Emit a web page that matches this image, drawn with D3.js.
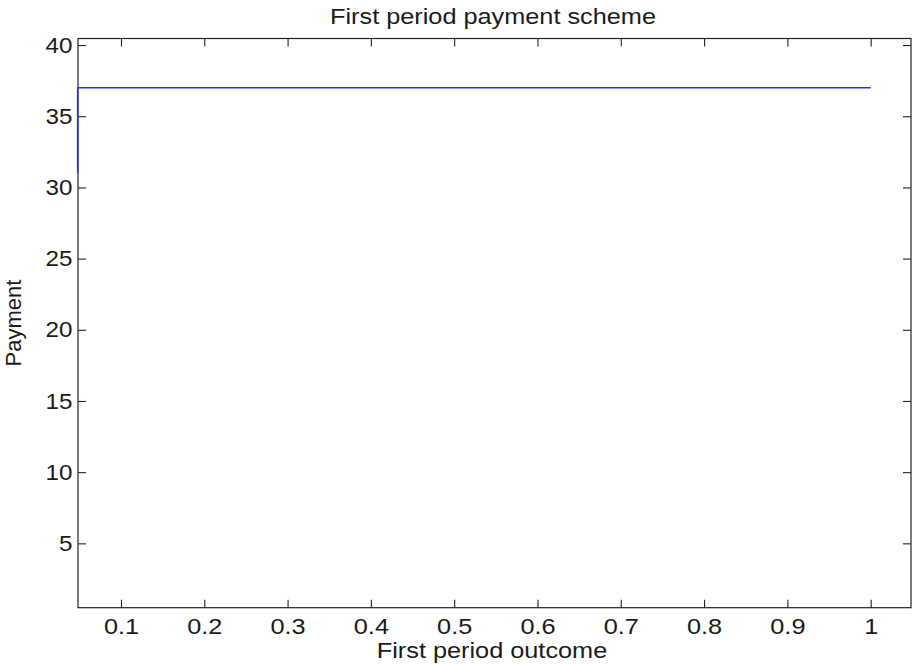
<!DOCTYPE html>
<html>
<head>
<meta charset="utf-8">
<script src="https://cdn.jsdelivr.net/npm/d3@7"></script>
<style>
  body { margin: 0; background: #fff; }
  text { font-family: "Liberation Sans", Arial, sans-serif; fill: #1a1a1a; }
</style>
</head>
<body>
<svg id="chart" width="914" height="666"></svg>
<script>
// payment scheme: jump at the left edge, then flat
var outcome = [0.048, 0.048, 1.0]
var payment = [31, 37, 37]

var xTicks = [0.1, 0.2, 0.3, 0.4, 0.5, 0.6, 0.7, 0.8, 0.9, 1]
var yTicks = [5, 10, 15, 20, 25, 30, 35, 40]

// plot box (the source picture is stretched a bit horizontally)
var pLeft = 78, pRight = 911, pTop = 38.5, pBottom = 607.7
var stretch = 'scale(1.15,1)'
var fs = 22
var tickLen = 8

var svg = d3.select('#chart')

var x = d3.scaleLinear()
    .domain([0.0484, 1.0484])
    .range([pLeft, pRight])

var y = d3.scaleLinear()
    .domain([0.48, 40.46])
    .range([pBottom, pTop])

// axes, ticks inward on all four sides
svg.append('g')
    .attr('transform', 'translate(0,' + pBottom + ')')
    .call(d3.axisBottom(x).tickValues(xTicks).tickSize(-tickLen).tickPadding(10.5)
        .tickFormat(function(d) { return d === 1 ? '1' : d3.format('.1f')(d) }))
    .call(function(g) {
        g.selectAll('text').attr('font-size', fs).attr('transform', stretch)
    })

svg.append('g')
    .attr('transform', 'translate(0,' + pTop + ')')
    .call(d3.axisTop(x).tickValues(xTicks).tickSize(-tickLen).tickFormat(''))

svg.append('g')
    .attr('transform', 'translate(' + pLeft + ',0)')
    .call(d3.axisLeft(y).tickValues(yTicks).tickSize(-tickLen).tickPadding(5))
    .call(function(g) {
        g.selectAll('text').attr('font-size', fs).attr('transform', 'scale(1.1,1)')
    })

svg.append('g')
    .attr('transform', 'translate(' + pRight + ',0)')
    .call(d3.axisRight(y).tickValues(yTicks).tickSize(-tickLen).tickFormat(''))

svg.selectAll('.domain').remove()
svg.selectAll('.tick line').attr('stroke', '#222').attr('stroke-width', 1.1)

svg.append('rect')
    .attr('x', pLeft).attr('y', pTop)
    .attr('width', pRight - pLeft).attr('height', pBottom - pTop)
    .attr('fill', 'none').attr('stroke', '#222').attr('stroke-width', 1.2)

var line = d3.line()
    .x(function(d, i) { return x(outcome[i]) })
    .y(function(d) { return y(d) })

svg.append('path')
    .datum(payment)
    .attr('d', line)
    .attr('fill', 'none')
    .attr('stroke', '#2b2bff')
    .attr('stroke-width', 1.5)

// titles
svg.append('text')
    .attr('transform', 'translate(493,24) ' + stretch)
    .attr('text-anchor', 'middle')
    .attr('font-size', fs)
    .text('First period payment scheme')

svg.append('text')
    .attr('transform', 'translate(492,658) ' + stretch)
    .attr('text-anchor', 'middle')
    .attr('font-size', fs)
    .text('First period outcome')

svg.append('text')
    .attr('transform', 'translate(21,323) rotate(-90)')
    .attr('text-anchor', 'middle')
    .attr('font-size', fs)
    .text('Payment')
</script>
</body>
</html>
